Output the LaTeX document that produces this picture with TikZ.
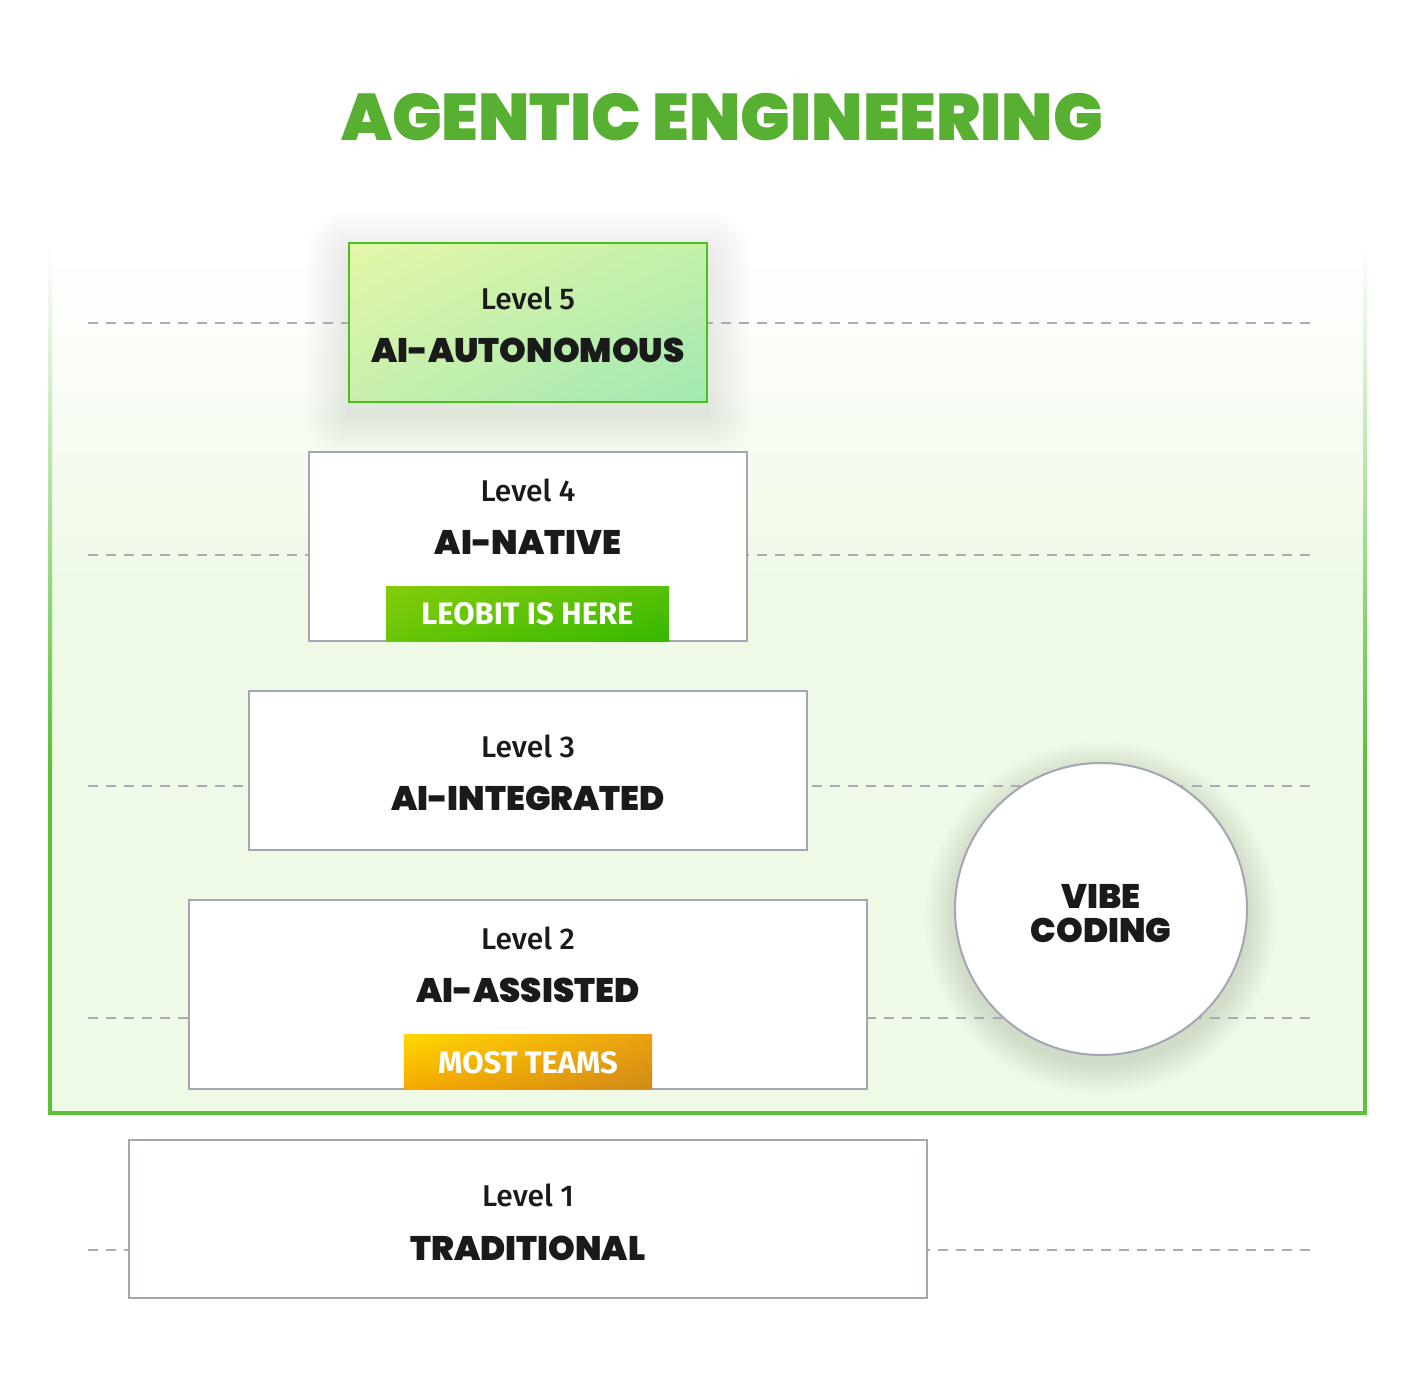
\documentclass[tikz,border=0pt]{standalone}
\usepackage{fontspec}
\setmainfont{Fira Sans}[UprightFont=* Medium]
\newfontfamily\heavy{Poppins}[UprightFont=* Black]
\newfontfamily\badgefont{Fira Sans}[UprightFont=* Bold]
\usetikzlibrary{shadings}
\definecolor{titlegreen}{HTML}{57B031}
\definecolor{linegreen}{HTML}{5BC33A}
\definecolor{bggreen}{HTML}{EEF9E6}
\definecolor{boxgray}{HTML}{A3A7B3}
\definecolor{dashgray}{HTML}{A8ACB5}
\definecolor{ink}{HTML}{1A1A1A}
\definecolor{shadowc}{HTML}{3A4A3A}
\definecolor{lfiveA}{HTML}{E4F7A9}
\definecolor{lfiveB}{HTML}{C4F0A8}
\definecolor{lfiveC}{HTML}{C8F0AC}
\definecolor{lfiveD}{HTML}{A0E8B4}
\definecolor{lfiveline}{HTML}{4CBE1E}
\definecolor{gbA}{HTML}{84CC0A}
\definecolor{gbB}{HTML}{58C006}
\definecolor{gbC}{HTML}{68C608}
\definecolor{gbD}{HTML}{34B800}
\definecolor{obA}{HTML}{FFD800}
\definecolor{obB}{HTML}{ECA010}
\definecolor{obC}{HTML}{F6A800}
\definecolor{obD}{HTML}{D08A18}
\tikzset{
  levelbox/.style={draw=boxgray, line width=2pt, fill=white, inner sep=0pt},
  lvltext/.style={anchor=base, inner sep=0pt, font=\fontsize{30}{33}\selectfont, text=ink},
  boldtext/.style={anchor=base, inner sep=0pt, font=\heavy\fontsize{34}{38}\selectfont, text=ink},
  badgetext/.style={anchor=base, inner sep=0pt, font=\badgefont\fontsize{31}{34}\selectfont, text=white},
  guide/.style={draw=dashgray, line width=2pt, dash pattern=on 10pt off 8.09pt},
  shadowlayer/.style={fill=shadowc, fill opacity=0.0055, draw=none},
  circshadow/.style={fill=shadowc, fill opacity=0.009, draw=none}
}
\begin{document}
\begin{tikzpicture}[x=1pt,y=-1pt]
\useasboundingbox (0,0) rectangle (1416,1378);
\fill[white] (0,0) rectangle (1416,1378);
% green region
\shade[top color=white, bottom color=bggreen] (48,245) rectangle (1367,600);
\fill[bggreen] (48,599) rectangle (1367,1115);
\shade[top color=white, bottom color=linegreen] (48,245) rectangle (52,760);
\fill[linegreen] (48,759) rectangle (52,1115);
\shade[top color=white, bottom color=linegreen] (1363,245) rectangle (1367,760);
\fill[linegreen] (1363,759) rectangle (1367,1115);
\fill[linegreen] (48,1111) rectangle (1367,1115);
% title
\node[anchor=base, inner sep=0pt, font=\heavy\fontsize{66}{70}\selectfont, text=titlegreen] (title) at (722,141) {AGENTIC ENGINEERING};
% shadows
\path node[inner sep=0pt, minimum width=358pt, minimum height=159pt] (l5) at (528,322.5) {};
\foreach \k in {2,4,...,44}{
  \fill[shadowlayer, rounded corners=\k pt] ([shift={(-\k,-\k+12)}]l5.north west) rectangle ([shift={(\k,\k+12)}]l5.south east);
}
\path node[circle, minimum size=292pt, inner sep=0pt] (vc) at (1101,909) {};
\foreach \k in {2,4,...,30}{
  \fill[circshadow] ([yshift=-9pt]vc.center) circle (146+\k);
}
% guides
\foreach \i/\y in {1/323,2/554.5,3/786,4/1018,5/1250}{
  \coordinate (gl\i) at (88,\y);
  \coordinate (gr\i) at (1310,\y);
  \path[guide] (gl\i) -- (gr\i);
}
% level 5
\shade[upper left=lfiveA, upper right=lfiveB, lower left=lfiveC, lower right=lfiveD]
  (l5.north west) rectangle (l5.south east);
\draw[draw=lfiveline, line width=2pt] (l5.north west) rectangle (l5.south east);
\node[lvltext] (l5a) at (528,309) {Level 5};
\node[boldtext] (l5b) at (528,362.5) {AI-AUTONOMOUS};
% level 4
\node[levelbox, minimum width=438pt, minimum height=189pt] (l4) at (528,546.5) {};
\node[lvltext] (l4a) at (528,501) {Level 4};
\node[boldtext] (l4b) at (528,554) {AI-NATIVE};
\node[inner sep=0pt, minimum width=283pt, minimum height=54pt] (b4) at (527.5,614) {};
\shade[upper left=gbA, upper right=gbB, lower left=gbC, lower right=gbD]
  (b4.north west) rectangle (b4.south east);
\node[badgetext] (b4t) at (527.5,624) {LEOBIT IS HERE};
% level 3
\node[levelbox, minimum width=558pt, minimum height=159pt] (l3) at (528,770.5) {};
\node[lvltext] (l3a) at (528,757) {Level 3};
\node[boldtext] (l3b) at (528,810.5) {AI-INTEGRATED};
% level 2
\node[levelbox, minimum width=678pt, minimum height=189pt] (l2) at (528,994.5) {};
\node[lvltext] (l2a) at (528,949) {Level 2};
\node[boldtext] (l2b) at (528,1002) {AI-ASSISTED};
\node[inner sep=0pt, minimum width=248pt, minimum height=54pt] (b2) at (528,1062) {};
\shade[upper left=obA, upper right=obB, lower left=obC, lower right=obD]
  (b2.north west) rectangle (b2.south east);
\node[badgetext] (b2t) at (528,1073) {MOST TEAMS};
% level 1
\node[levelbox, minimum width=798pt, minimum height=158pt] (l1) at (528,1219) {};
\node[lvltext] (l1a) at (528,1206) {Level 1};
\node[boldtext] (l1b) at (528,1260) {TRADITIONAL};
% vibe coding
\draw[draw=boxgray, line width=2pt, fill=white] (vc.center) circle (146);
\node[boldtext] (vc1) at (1101,908) {VIBE};
\node[boldtext] (vc2) at (1101,942) {CODING};
\end{tikzpicture}
\end{document}
